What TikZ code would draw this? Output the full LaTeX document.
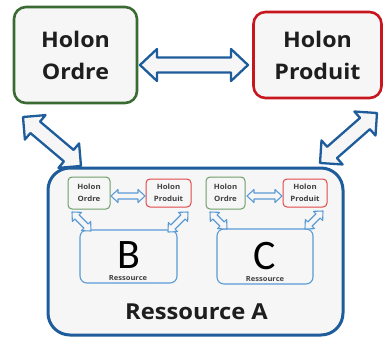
\documentclass[tikz,border=0pt]{standalone}
\usepackage{fontspec}
\setmainfont{Open Sans}[FakeStretch=1.08]
\newfontfamily\bigletter{Carlito}
\usetikzlibrary{calc}
\definecolor{boxfill}{HTML}{F6F6F6}
\definecolor{hogreen}{HTML}{3A6B32}
\definecolor{hpred}{HTML}{C8161E}
\definecolor{dblue}{HTML}{1E5C9B}
\definecolor{lblue}{HTML}{5B9BD5}
\definecolor{sgreen}{HTML}{6E9E6A}
\definecolor{sred}{HTML}{E04848}
\definecolor{txt}{HTML}{1E1E1E}
\definecolor{stxt}{HTML}{404040}
\tikzset{
  barrow/.style n args={3}{to path={
    let \p1=(\tikztostart), \p2=(\tikztotarget),
        \n1={atan2(\y2-\y1,\x2-\x1)}, \n2={veclen(\x2-\x1,\y2-\y1)} in
    ([shift={(\p1)},rotate=\n1]0pt,0pt)
    -- ([shift={(\p1)},rotate=\n1]#3pt,#2pt)
    -- ([shift={(\p1)},rotate=\n1]#3pt,#1pt)
    -- ([shift={(\p1)},rotate=\n1]{\n2*1pt-#3pt},#1pt)
    -- ([shift={(\p1)},rotate=\n1]{\n2*1pt-#3pt},#2pt)
    -- ([shift={(\p1)},rotate=\n1]{\n2*1pt},0pt)
    -- ([shift={(\p1)},rotate=\n1]{\n2*1pt-#3pt},-#2pt)
    -- ([shift={(\p1)},rotate=\n1]{\n2*1pt-#3pt},-#1pt)
    -- ([shift={(\p1)},rotate=\n1]#3pt,-#1pt)
    -- ([shift={(\p1)},rotate=\n1]#3pt,-#2pt)
    -- cycle}},
  bigarrow/.style={draw=dblue, fill=boxfill, line width=2.3pt, line join=round, barrow={7.5}{16}{17}},
  diagarrow/.style={draw=dblue, fill=boxfill, line width=2.3pt, line join=round, barrow={7.5}{16}{16}},
  smallarrow/.style={draw=lblue, fill=boxfill, line width=1.1pt, line join=round, barrow={3}{6.5}{7}},
  bigbox/.style={draw, fill=boxfill, line width=2.6pt, rounded corners=12pt, inner sep=0pt,
    align=center, text=txt, font=\fontsize{21.5}{32}\selectfont\bfseries},
  smallbox/.style={draw, fill=boxfill, line width=1pt, rounded corners=4pt, inner sep=0pt,
    align=center, text=stxt, font=\fontsize{7.3}{11.5}\selectfont\bfseries},
  resbox/.style={draw=lblue, fill=boxfill, line width=1.1pt, rounded corners=7pt, inner sep=0pt},
}
\begin{document}
\begin{tikzpicture}[x=1pt,y=-1pt]
\useasboundingbox (0,0) rectangle (384,338);
\fill[white] (0,0) rectangle (384,338);
% top holons
\node[bigbox, draw=hogreen, minimum width=123pt, minimum height=96pt] (ho) at (75.5,55) {Holon\\Ordre};
\node[bigbox, draw=hpred, minimum width=128pt, minimum height=86pt] (hp) at (317.5,55) {Holon\\Produit};
% resource A
\node[draw=dblue, fill=boxfill, line width=3pt, rounded corners=22pt, minimum width=295pt, minimum height=167pt] (ra) at (195.5,251.5) {};
\node[text=txt, font=\fontsize{22}{26}\selectfont\bfseries, inner sep=0pt] (ratxt) at (196.5,312) {Ressource A};
% inner group B
\node[smallbox, draw=sgreen, minimum width=42pt, minimum height=32pt] (hob) at (89,193) {Holon\\Ordre};
\node[smallbox, draw=sred, minimum width=45pt, minimum height=28pt] (hpb) at (168.5,193) {Holon\\Produit};
\node[resbox, minimum width=97pt, minimum height=53pt] (rb) at (128.5,256.5) {};
\node[inner sep=0pt, font=\bigletter\fontsize{42}{42}\selectfont, text=black] (bl) at (128.5,255) {B};
\node[inner sep=0pt, font=\fontsize{7}{8}\selectfont\bfseries, text=stxt] (bres) at (128,278.5) {Ressource};
% inner group C
\node[smallbox, draw=sgreen, minimum width=39pt, minimum height=32pt] (hoc) at (225.5,193) {Holon\\Ordre};
\node[smallbox, draw=sred, minimum width=44pt, minimum height=28pt] (hpc) at (305,193) {Holon\\Produit};
\node[resbox, minimum width=96pt, minimum height=55pt] (rc) at (265,256.5) {};
\node[inner sep=0pt, font=\bigletter\fontsize{42}{42}\selectfont, text=black] (cl) at (265,256) {C};
\node[inner sep=0pt, font=\fontsize{7}{8}\selectfont\bfseries, text=stxt] (cres) at (265,279.5) {Ressource};
% arrow end points
\coordinate (t1) at (140,65);
\coordinate (t2) at (248,65);
\coordinate (l1) at (23,117);
\coordinate (l2) at (81,166);
\coordinate (r1) at (377,113);
\coordinate (r2) at (320,163);
\coordinate (bh1) at (111,196);
\coordinate (bh2) at (145,196);
\coordinate (bl1) at (72,212);
\coordinate (bl2) at (91,231);
\coordinate (br1) at (188,212);
\coordinate (br2) at (168,232);
\coordinate (ch1) at (247,196);
\coordinate (ch2) at (282,196);
\coordinate (cl1) at (210,212);
\coordinate (cl2) at (227,229);
\coordinate (cr1) at (323,211);
\coordinate (cr2) at (305,229);
% arrows
\draw[bigarrow] (t1) to (t2);
\draw[diagarrow] (l1) to (l2);
\draw[diagarrow] (r1) to (r2);
\draw[smallarrow] (bh1) to (bh2);
\draw[smallarrow] (bl1) to (bl2);
\draw[smallarrow] (br1) to (br2);
\draw[smallarrow] (ch1) to (ch2);
\draw[smallarrow] (cl1) to (cl2);
\draw[smallarrow] (cr1) to (cr2);
\end{tikzpicture}
\end{document}
